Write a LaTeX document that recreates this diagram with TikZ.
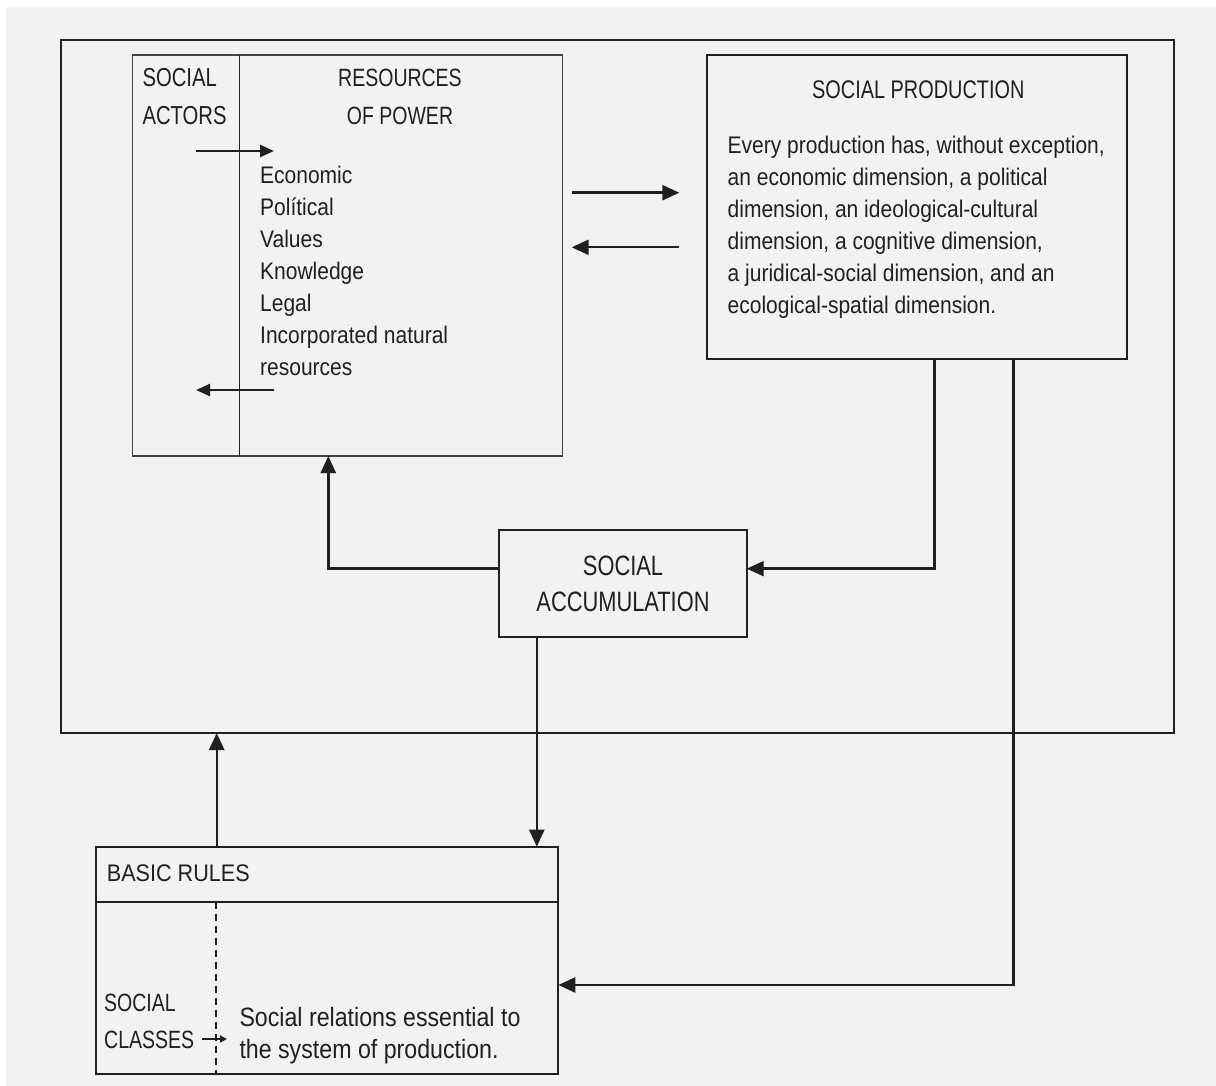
\documentclass[tikz,border=0pt]{standalone}
\usepackage{fontspec}
\setmainfont{Liberation Sans}
\newfontfamily\fbody[FakeStretch=0.875]{Liberation Sans}
\newfontfamily\fhead[FakeStretch=0.78]{Liberation Sans}
\newfontfamily\fmid[FakeStretch=0.9]{Liberation Sans}
\usetikzlibrary{arrows.meta}
\definecolor{bg}{HTML}{F1F2F4}
\definecolor{ink}{HTML}{231F20}
\begin{document}
\begin{tikzpicture}[x=1pt,y=-1pt,
  box/.style={draw=ink, line width=2pt, inner sep=0pt, outer sep=0pt, anchor=north west},
  conn/.style={draw=ink, line width=2.4pt, -{Triangle[length=17pt,width=15pt]}},
  smallarr/.style={draw=ink, line width=2.4pt, -{Triangle[length=14pt,width=12pt]}},
  tinyarr/.style={draw=ink, line width=1.8pt, -{Triangle[length=7pt,width=7pt]}},
  txt/.style={text=ink, inner sep=0pt, anchor=base west, font=\fbody\fontsize{24}{32}\selectfont},
  hd/.style={text=ink, inner sep=0pt, anchor=base, font=\fhead\fontsize{26}{38}\selectfont},
  hdl/.style={text=ink, inner sep=0pt, anchor=base west, font=\fhead\fontsize{26}{38}\selectfont}]
\useasboundingbox (0,0) rectangle (1216,1086);
\fill[white] (0,0) rectangle (1216,1086);
\fill[bg] (6,7) rectangle (1216,1086);

% boxes
\node[box, minimum width=1113pt, minimum height=693pt] (outer) at (61,40) {};
\node[box, draw=ink!85, line width=1.6pt, minimum width=430pt, minimum height=401pt] (res) at (132.3,55) {};
\node[box, minimum width=420pt, minimum height=304pt] (sp) at (707.3,55) {};
\node[box, minimum width=247.4pt, minimum height=107.3pt] (acc) at (499.3,530) {};
\node[box, minimum width=462.6pt, minimum height=227.6pt] (br) at (95.7,846.7) {};

% divider in resources box
\coordinate (dv) at (239.3,55);
\draw[ink, line width=1.4pt] (dv) -- (dv |- res.south);

% separator and dashed line in basic rules
\coordinate (s1) at (95.7,901.7);
\draw[ink, line width=1.6pt] (s1) -- (s1 -| br.east);
\coordinate (dt) at (215.7,901.7);
\draw[ink, line width=1.8pt, dash pattern=on 7pt off 5pt] (dt) -- (dt |- br.south);

% texts: resources box
\node[hdl] (sa1) at (142.3,86.7) {SOCIAL};
\node[hdl] (sa2) at (142.3,125) {ACTORS};
\node[hd, font=\fhead\fontsize{25}{38}\selectfont] (rp1) at (400,86.7) {RESOURCES};
\node[hd, font=\fhead\fontsize{25}{38}\selectfont] (rp2) at (400,125) {OF POWER};
\foreach \t [count=\i] in {Economic, Polítical, Values, Knowledge, Legal, Incorporated natural, resources}
  \node[txt] (rl\i) at (260,183.3+32*\i-32) {\t};

% social production
\node[hd, font=\fhead\fontsize{25.5}{38}\selectfont] (sph) at (918.3,98.3) {SOCIAL PRODUCTION};
\foreach \t [count=\i] in {{Every production has, without exception,}, {an economic dimension, a political}, {dimension, an ideological-cultural}, {dimension, a cognitive dimension,}, {a juridical-social dimension, and an}, {ecological-spatial dimension.}}
  \node[txt] (sp\i) at (727.5,153.3+32*\i-32) {\t};

% social accumulation
\node[hd, font=\fhead\fontsize{28}{38}\selectfont] (ac1) at (623,575) {SOCIAL};
\node[hd, font=\fhead\fontsize{28}{38}\selectfont] (ac2) at (623,611.7) {ACCUMULATION};

% basic rules
\node[txt, font=\fmid\fontsize{24}{32}\selectfont] (brh) at (106.7,881.7) {BASIC RULES};
\node[hdl, font=\fhead\fontsize{25}{36}\selectfont] (sc1) at (104,1011.7) {SOCIAL};
\node[hdl, font=\fhead\fontsize{25}{36}\selectfont] (sc2) at (104,1048) {CLASSES};
\node[txt, font=\fbody\fontsize{26.5}{32}\selectfont] (rel1) at (239.3,1026.7) {Social relations essential to};
\node[txt, font=\fbody\fontsize{26.5}{32}\selectfont] (rel2) at (239.3,1058.3) {the system of production.};

% connectors
\coordinate (pa) at (571.7,192.7);
\coordinate (pb) at (679.3,192.7);
\draw[conn] (pa) -- (pb);
\coordinate (pc) at (679.3,247.3);
\coordinate (pd) at (571.7,247.3);
\draw[conn] (pc) -- (pd);

\coordinate (ra) at (196,151);
\coordinate (rb) at (274,151);
\draw[smallarr] (ra) -- (rb);
\coordinate (rc) at (274,390);
\coordinate (rd) at (196,390);
\draw[smallarr] (rc) -- (rd);

\coordinate (accR) at ([yshift=15pt]acc.east);
\coordinate (accL) at ([yshift=15pt]acc.west);
\draw[conn] ([xshift=227pt]sp.south west) |- (accR);
\draw[conn] (accL) -| ([xshift=196pt]res.south west);
\draw[conn] ([xshift=37.5pt]acc.south west) coordinate (d1) -- (d1 |- br.north);
\draw[conn] ([xshift=121pt]br.north west) coordinate (u1) -- (u1 |- outer.south);
\coordinate (brR) at ([yshift=-24.5pt]br.east);
\draw[conn] ([xshift=306pt]sp.south west) |- (brR);

\coordinate (ca) at (202,1039);
\coordinate (cb) at (227,1039);
\draw[tinyarr] (ca) -- (cb);
\end{tikzpicture}
\end{document}
